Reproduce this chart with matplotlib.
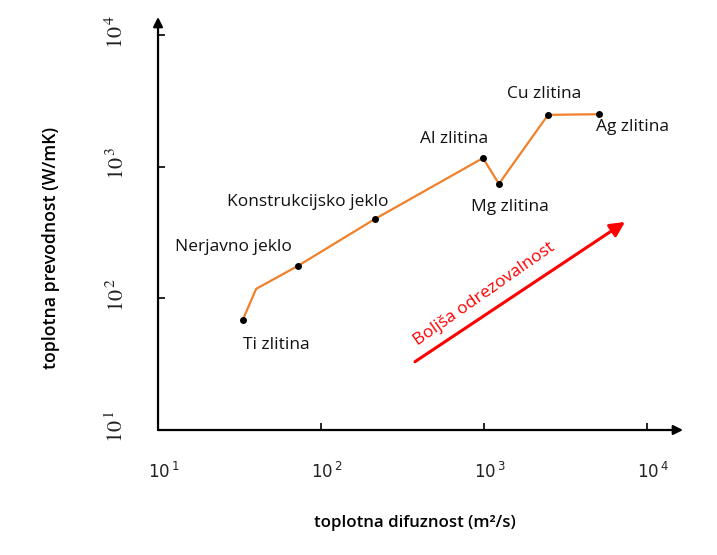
import matplotlib
matplotlib.use('Agg')
import matplotlib.pyplot as plt
from matplotlib.transforms import ScaledTranslation

# Thermal diffusivity vs thermal conductivity for common alloys
materials = ['Ti zlitina', 'Nerjavno jeklo', 'Konstrukcijsko jeklo',
             'Al zlitina', 'Mg zlitina', 'Cu zlitina', 'Ag zlitina']
diffusivity = [33, 72, 214, 985, 1235, 2470, 5080]
conductivity = [68, 176, 400, 1160, 740, 2470, 2500]

# the orange curve has one extra bend just after Ti, without a marker
bend_diffusivity = 40
bend_conductivity = 118

decades = [10, 100, 1000, 10000]
decade_labels = [r'$10^{\,1}$', r'$10^{\,2}$', r'$10^{\,3}$', r'$10^{\,4}$']

# "better machinability" arrow, start and end
trend_x = [377, 7330]
trend_y = [33, 380]
trend_text = 'Boljša odrezovalnost'

# label offsets from each point, in points
label_offsets = [(24, -18), (-46, 14), (-48, 12), (-21, 14),
                 (8, -17), (-3, 15), (24, -9)]

line_x = [diffusivity[0], bend_diffusivity] + diffusivity[1:]
line_y = [conductivity[0], bend_conductivity] + conductivity[1:]

fig = plt.figure(figsize=(7.17, 5.55), dpi=100)
ax = fig.add_axes([0.2204, 0.2252, 0.7322, 0.7442])
ax.set_xscale('log')
ax.set_yscale('log')
ax.set_xlim(10, 10 ** 4.221)
ax.set_ylim(10, 10 ** 4.136)

for s in ax.spines.values():
    s.set_visible(False)

# axes drawn as arrows
axis_arrow = dict(arrowstyle='-|>', color='black', lw=1.6,
                  mutation_scale=14, shrinkA=0, shrinkB=0)
ax.annotate('', xy=(1, 0), xytext=(0, 0), xycoords='axes fraction',
            arrowprops=axis_arrow)
ax.annotate('', xy=(0, 1), xytext=(0, 0), xycoords='axes fraction',
            arrowprops=axis_arrow)

ax.plot(line_x, line_y, color='#f0802a', lw=1.6, zorder=2)
ax.plot(diffusivity, conductivity, 'o', color='black', ms=4, zorder=3)

label_font = dict(family='Open Sans', fontsize=12.5, color='#111111')
for name, x, y, off in zip(materials, diffusivity, conductivity, label_offsets):
    ax.annotate(name, xy=(x, y), xytext=off, textcoords='offset points',
                ha='center', va='center', **label_font)

ax.annotate('', xy=(trend_x[1], trend_y[1]), xytext=(trend_x[0], trend_y[0]),
            arrowprops=dict(arrowstyle='-|>', color='red', lw=2.2,
                            mutation_scale=22, shrinkA=0, shrinkB=0))
ax.text(1000, 108, trend_text, color='red', rotation=35, rotation_mode='anchor',
        ha='center', va='center', family='Open Sans', fontsize=12.5)

ax.xaxis.set_minor_locator(plt.NullLocator())
ax.yaxis.set_minor_locator(plt.NullLocator())
ax.tick_params(axis='both', direction='in', length=5, width=1.2,
               labelcolor='#222222')
ax.tick_params(axis='x', pad=23)
ax.tick_params(axis='y', pad=22)
ax.set_xticks(decades[1:] + [decades[0]])
ax.set_xticklabels(decade_labels[1:] + [decade_labels[0]], fontsize=12)
ax.set_yticks(decades)
ax.set_yticklabels(decade_labels, rotation=90, va='center', fontsize=16,
                   math_fontfamily='stix')

# x labels sit a little right of the ticks, y labels a little above
shift_x = ScaledTranslation(6 / 100, 0, fig.dpi_scale_trans)
shift_y = ScaledTranslation(0, 3 / 100, fig.dpi_scale_trans)
for lab in ax.get_xticklabels():
    lab.set_transform(lab.get_transform() + shift_x)
for lab in ax.get_yticklabels():
    lab.set_transform(lab.get_transform() + shift_y)

ax.set_xlabel('toplotna difuznost (m²/s)', family='Open Sans', fontsize=12.2,
              fontweight='semibold', va='center')
ax.xaxis.set_label_coords(0.49, -0.225)
ax.set_ylabel('toplotna prevodnost (W/mK)', family='Open Sans', fontsize=12.7,
              fontweight='semibold', va='center')
ax.yaxis.set_label_coords(-0.203, 0.44)

fig.savefig('out.png', dpi=100)
